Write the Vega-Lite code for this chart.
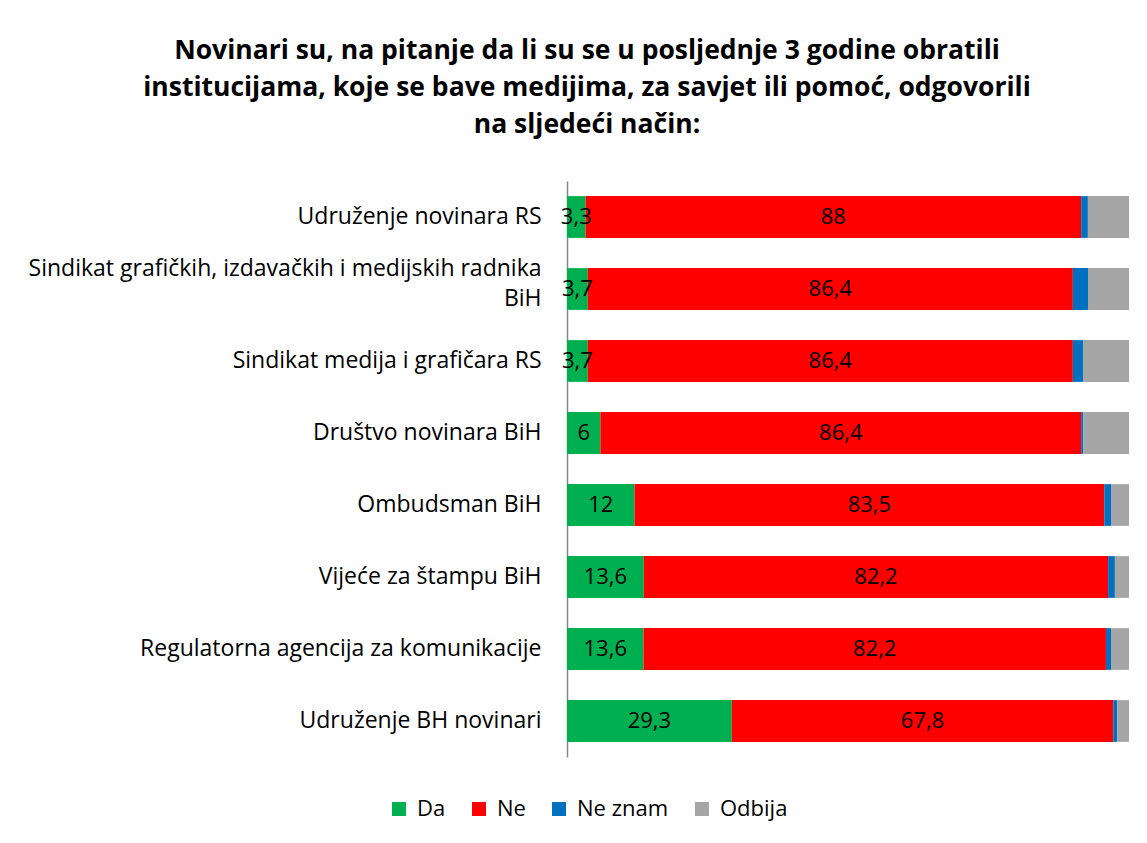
{
  "$schema": "https://vega.github.io/schema/vega-lite/v6.json",
  "autosize": {"type": "none"},
  "width": 562,
  "height": 576,
  "padding": {"left": 567, "top": 181, "right": 18, "bottom": 86},
  "background": "white",
  "config": {"font": "Open Sans", "view": {"stroke": null}},
  "title": {
    "text": ["Novinari su, na pitanje da li su se u posljednje 3 godine obratili", "institucijama, koje se bave medijima, za savjet ili pomoć, odgovorili", "na sljedeći način:"],
    "fontSize": 26.5,
    "fontWeight": "bold",
    "font": "Open Sans",
    "color": "black",
    "lineHeight": 37,
    "anchor": "middle",
    "frame": "group",
    "dx": -261,
    "offset": 43
  },
  "data": {
    "values": [
      {"inst": "Udruženje novinara RS", "cat": "Da", "v": 3.3, "o": 1},
      {"inst": "Udruženje novinara RS", "cat": "Ne", "v": 88, "o": 2},
      {"inst": "Udruženje novinara RS", "cat": "Ne znam", "v": 1.2, "o": 3},
      {"inst": "Udruženje novinara RS", "cat": "Odbija", "v": 7.3, "o": 4},
      {"inst": "Sindikat grafičkih, izdavačkih i medijskih radnika BiH", "cat": "Da", "v": 3.7, "o": 1},
      {"inst": "Sindikat grafičkih, izdavačkih i medijskih radnika BiH", "cat": "Ne", "v": 86.4, "o": 2},
      {"inst": "Sindikat grafičkih, izdavačkih i medijskih radnika BiH", "cat": "Ne znam", "v": 2.7, "o": 3},
      {"inst": "Sindikat grafičkih, izdavačkih i medijskih radnika BiH", "cat": "Odbija", "v": 7.3, "o": 4},
      {"inst": "Sindikat medija i grafičara RS", "cat": "Da", "v": 3.7, "o": 1},
      {"inst": "Sindikat medija i grafičara RS", "cat": "Ne", "v": 86.4, "o": 2},
      {"inst": "Sindikat medija i grafičara RS", "cat": "Ne znam", "v": 1.8, "o": 3},
      {"inst": "Sindikat medija i grafičara RS", "cat": "Odbija", "v": 8.2, "o": 4},
      {"inst": "Društvo novinara BiH", "cat": "Da", "v": 6, "o": 1},
      {"inst": "Društvo novinara BiH", "cat": "Ne", "v": 86.4, "o": 2},
      {"inst": "Društvo novinara BiH", "cat": "Ne znam", "v": 0.4, "o": 3},
      {"inst": "Društvo novinara BiH", "cat": "Odbija", "v": 8.2, "o": 4},
      {"inst": "Ombudsman BiH", "cat": "Da", "v": 12, "o": 1},
      {"inst": "Ombudsman BiH", "cat": "Ne", "v": 83.5, "o": 2},
      {"inst": "Ombudsman BiH", "cat": "Ne znam", "v": 1.2, "o": 3},
      {"inst": "Ombudsman BiH", "cat": "Odbija", "v": 3.2, "o": 4},
      {"inst": "Vijeće za štampu BiH", "cat": "Da", "v": 13.6, "o": 1},
      {"inst": "Vijeće za štampu BiH", "cat": "Ne", "v": 82.2, "o": 2},
      {"inst": "Vijeće za štampu BiH", "cat": "Ne znam", "v": 1.2, "o": 3},
      {"inst": "Vijeće za štampu BiH", "cat": "Odbija", "v": 2.5, "o": 4},
      {"inst": "Regulatorna agencija za komunikacije", "cat": "Da", "v": 13.6, "o": 1},
      {"inst": "Regulatorna agencija za komunikacije", "cat": "Ne", "v": 82.2, "o": 2},
      {"inst": "Regulatorna agencija za komunikacije", "cat": "Ne znam", "v": 0.9, "o": 3},
      {"inst": "Regulatorna agencija za komunikacije", "cat": "Odbija", "v": 3.2, "o": 4},
      {"inst": "Udruženje  BH novinari ", "cat": "Da", "v": 29.3, "o": 1},
      {"inst": "Udruženje  BH novinari ", "cat": "Ne", "v": 67.8, "o": 2},
      {"inst": "Udruženje  BH novinari ", "cat": "Ne znam", "v": 0.7, "o": 3},
      {"inst": "Udruženje  BH novinari ", "cat": "Odbija", "v": 2.1, "o": 4}
    ]
  },
  "transform": [
    {"stack": "v", "groupby": ["inst"], "sort": [{"field": "o", "order": "ascending"}], "offset": "normalize", "as": ["x0", "x1"]},
    {"calculate": "(datum.x0 + datum.x1) / 2", "as": "xm"},
    {"calculate": "replace(toString(datum.v), '.', ',')", "as": "lbl"}
  ],
  "encoding": {
    "y": {
      "field": "inst",
      "type": "nominal",
      "sort": null,
      "scale": {"paddingInner": 0.42, "paddingOuter": 0.21},
      "axis": {
        "title": null,
        "ticks": false,
        "labelPadding": 26,
        "labelFontSize": 23,
        "labelLineHeight": 30,
        "labelOffset": {"condition": {"test": "datum.value == 'Sindikat grafičkih, izdavačkih i medijskih radnika BiH'", "value": -20}, "value": 0},
        "labelColor": "black",
        "labelFont": "Open Sans",
        "labelLimit": 600,
        "domainColor": "#868686",
        "domainWidth": 1.5,
        "labelExpr": "datum.label == 'Sindikat grafičkih, izdavačkih i medijskih radnika BiH' ? ['Sindikat grafičkih, izdavačkih i medijskih radnika', 'BiH'] : datum.label"
      }
    }
  },
  "layer": [
    {
      "mark": {"type": "bar"},
      "encoding": {
        "x": {"field": "x0", "type": "quantitative", "scale": {"domain": [0, 1], "nice": false}, "axis": null},
        "x2": {"field": "x1"},
        "color": {
          "field": "cat",
          "type": "nominal",
          "scale": {"domain": ["Da", "Ne", "Ne znam", "Odbija"], "range": ["#00B050", "#FF0000", "#0070C0", "#A6A6A6"]},
          "legend": {
            "title": null,
            "orient": "none",
            "direction": "horizontal",
            "legendX": -179,
            "legendY": 617,
            "symbolType": "square",
            "symbolSize": 196,
            "symbolStrokeWidth": 0,
            "labelFontSize": 22,
            "labelFont": "Open Sans",
            "labelColor": "black",
            "labelOffset": 7,
            "columnPadding": 22
          }
        }
      }
    },
    {
      "transform": [{"filter": "datum.cat == 'Da' || datum.cat == 'Ne'"}],
      "mark": {"type": "text", "fontSize": 22, "font": "Open Sans", "color": "black", "align": "center", "baseline": "middle"},
      "encoding": {
        "x": {"field": "xm", "type": "quantitative"},
        "text": {"field": "lbl"}
      }
    }
  ]
}
